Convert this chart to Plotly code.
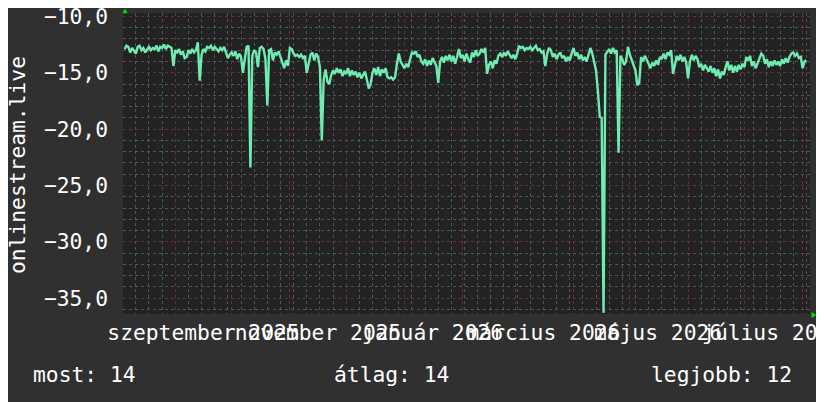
import pandas as pd
import plotly.graph_objects as go

# ---- data (daily values) ----
aug25 = [-12.9, -12.6, -12.7, -13.2, -12.8, -13.1, -13.3, -12.7, -12.6, -13.0, -12.8, -13.2, -12.9, -12.7,
         -13.0, -12.8, -12.9, -12.6, -13.1, -12.7, -12.8, -12.5, -12.9, -12.6, -12.7, -12.8, -14.4]  # from Aug 5
sep25 = [-13.0, -13.2, -12.9, -13.4, -13.1, -13.7, -13.6, -13.0, -13.3, -12.9, -13.2, -13.0, -12.3, -15.7,
         -13.4, -12.9, -13.1, -12.7, -12.8, -12.6, -13.0, -12.7, -12.9, -13.1, -12.8, -13.0, -12.7, -13.2,
         -13.7, -13.4]
oct25 = [-13.2, -13.5, -13.1, -13.8, -13.3, -13.6, -15.0, -13.8, -12.7, -12.6, -23.4, -13.5, -13.0, -13.2,
         -14.5, -12.8, -12.7, -12.9, -13.8, -17.9, -13.0, -12.9, -13.9, -13.2, -13.4, -13.1, -13.6, -14.2,
         -14.6, -13.9, -14.4]
nov25 = [-12.8, -12.9, -13.3, -13.5, -13.4, -13.6, -13.4, -13.7, -13.5, -15.0, -14.2, -13.4, -13.2, -13.9,
         -13.3, -13.6, -14.5, -21.0, -15.6, -14.7, -15.8, -16.0, -15.2, -14.8, -15.1, -14.6, -15.0, -14.7,
         -15.3, -14.9]
dec25 = [-15.1, -14.6, -15.3, -14.8, -15.2, -14.9, -15.4, -15.0, -15.5, -15.2, -14.9, -15.6, -16.4, -16.0,
         -15.0, -14.6, -15.2, -14.5, -15.3, -14.7, -15.0, -14.6, -15.4, -15.5, -15.4, -15.6, -15.4, -14.2,
         -13.3, -14.0, -14.3]
jan26 = [-14.6, -14.2, -14.5, -13.8, -13.2, -13.3, -13.1, -13.6, -13.4, -14.0, -14.2, -13.8, -14.4, -13.9,
         -14.3, -13.7, -14.1, -14.4, -15.9, -14.0, -13.6, -14.1, -13.5, -13.9, -13.4, -14.0, -13.5, -14.2,
         -13.6, -12.9, -13.7]
feb26 = [-13.4, -14.0, -13.3, -13.8, -14.1, -13.2, -13.6, -13.0, -13.5, -13.3, -12.9, -13.2, -12.8, -15.1,
         -14.3, -14.0, -14.6, -13.9, -14.2, -13.5, -13.3, -13.6, -13.2, -13.5, -13.1, -13.4, -13.7, -13.4]
mar26 = [-13.8, -13.3, -12.6, -12.8, -12.7, -13.0, -12.8, -12.9, -12.7, -13.0, -12.8, -12.6, -13.0, -12.9,
         -13.2, -13.1, -14.4, -13.3, -12.8, -13.0, -13.6, -13.3, -13.8, -13.4, -13.2, -13.7, -13.5, -14.0,
         -13.6, -13.9, -13.3]
apr26 = [-12.8, -13.5, -13.2, -13.8, -13.4, -13.9, -13.6, -14.0, -13.5, -12.8, -13.3, -14.2, -14.8, -16.6,
         -18.9, -19.0, -36.3, -13.4, -13.1, -12.9, -13.3, -12.8, -13.2, -13.0, -22.1, -13.5, -13.8, -14.3,
         -14.0, -12.7]
may26 = [-13.4, -13.9, -14.5, -14.8, -16.1, -15.9, -13.6, -14.0, -13.5, -13.8, -14.2, -14.6, -14.1, -14.4,
         -13.9, -14.3, -13.6, -13.8, -13.3, -13.8, -13.2, -13.4, -13.0, -15.1, -14.2, -13.5, -13.9, -13.4,
         -14.0, -13.6, -14.1]
jun26 = [-15.5, -14.0, -13.4, -13.9, -13.5, -13.8, -14.5, -14.2, -14.8, -14.3, -14.6, -14.9, -14.4, -15.0,
         -14.6, -15.3, -14.7, -15.5, -14.9, -15.2, -14.5, -14.0, -14.8, -14.3, -15.0, -14.4, -14.9, -14.3,
         -14.7, -14.2]
jul26 = [-14.5, -13.6, -13.9, -13.5, -14.4, -14.0, -14.6, -14.1, -13.8, -13.3, -13.5, -14.2, -13.8, -14.5,
         -14.0, -14.4, -13.9, -14.3, -14.0, -14.4, -13.8, -14.2, -13.7, -14.1, -13.6, -13.3, -13.2, -13.5,
         -13.3, -13.7, -13.6]
aug26 = [-14.6, -14.0, -13.9]

month_starts = ["2025-08-05", "2025-09-01", "2025-10-01", "2025-11-01", "2025-12-01", "2026-01-01",
                "2026-02-01", "2026-03-01", "2026-04-01", "2026-05-01", "2026-06-01", "2026-07-01",
                "2026-08-01"]
month_values = [aug25, sep25, oct25, nov25, dec25, jan26, feb26, mar26, apr26, may26, jun26, jul26, aug26]

label_dates = ["2025-09-16", "2025-11-16", "2026-01-16", "2026-03-16", "2026-05-16", "2026-07-16"]
label_texts = ["szeptember 2025", "november 2025", "január 2026", "március 2026", "május 2026", "július 2026"]

y_title = "onlinestream.live"
legend_texts = ["most: 14", "átlag: 14", "legjobb: 12"]

# ---- build series ----
dates, values = [], []
for start, vals in zip(month_starts, month_values):
    dates.extend(pd.date_range(start, periods=len(vals), freq="D"))
    values.extend(vals)

x_range = ["2025-08-04 04:00", "2026-08-04 22:00"]
y_range = [-36.4, -9.7]

FONT = "DejaVu Sans Mono"
FS = 21.3
BG = "#303030"
PLOT_BG = "#222222"
MAJOR = "rgba(130,55,55,0.75)"
MINOR = "rgba(105,105,105,0.7)"
LINE = "#6fecb2"

fig = go.Figure()
fig.add_trace(go.Scatter(x=dates, y=values, mode="lines",
                         line=dict(color=LINE, width=2.4), hoverinfo="skip", showlegend=False))
# invisible helper on the label axis
fig.add_trace(go.Scatter(x=[dates[0]], y=[values[0]], xaxis="x2", mode="markers",
                         marker=dict(size=1, opacity=0), hoverinfo="skip", showlegend=False))

# the page shows the div offset by the 8px body margin, so margins compensate
fig.update_layout(
    width=824, height=402,
    margin=dict(l=115, r=22, t=5, b=96, autoexpand=False),
    paper_bgcolor=BG, plot_bgcolor=PLOT_BG,
    separators=", ",
    font=dict(family=FONT, size=FS, color="#ffffff"),
    showlegend=False,
    xaxis=dict(
        type="date", range=x_range, showticklabels=False, ticks="", automargin=False,
        tick0="2025-09-01", dtick="M1",
        showgrid=True, gridcolor=MAJOR, griddash="dot", gridwidth=1,
        minor=dict(tick0="2025-08-04", dtick=7 * 86400000, showgrid=True,
                   gridcolor=MINOR, griddash="dot", gridwidth=1),
        zeroline=False, showline=False,
    ),
    xaxis2=dict(
        type="date", range=x_range, overlaying="x", anchor="y", side="bottom", automargin=False,
        tickmode="array", tickvals=label_dates, ticktext=label_texts,
        tickangle=0, ticks="", showgrid=False, zeroline=False, showline=False,
        ticklabeloverflow="allow", ticklabelstandoff=4,
        tickfont=dict(family=FONT, size=FS, color="#ffffff"),
    ),
    yaxis=dict(
        range=y_range, tick0=-35, dtick=5, tickformat=".1f", ticks="", automargin=False,
        showgrid=True, gridcolor=MAJOR, griddash="dot", gridwidth=1,
        minor=dict(dtick=1, tick0=-35, showgrid=True, gridcolor=MINOR, griddash="dot", gridwidth=1),
        zeroline=False, showline=False, ticklabelstandoff=14, ticklabeloverflow="allow",
        tickfont=dict(family=FONT, size=FS, color="#ffffff"),
    ),
)

# rotated y-axis title
fig.add_annotation(text=y_title, xref="paper", yref="paper",
                   x=(17 - 123) / 687, y=(314 - 165) / 301, textangle=-90,
                   xanchor="center", yanchor="middle", showarrow=False,
                   font=dict(family=FONT, size=FS, color="#ffffff"))

# legend-like summary row
for txt, px in zip(legend_texts, [31, 332, 649]):
    fig.add_annotation(text=txt, xref="paper", yref="paper",
                       x=(px - 123) / 687, y=(314 - 374) / 301,
                       xanchor="left", yanchor="middle", showarrow=False,
                       font=dict(family=FONT, size=FS, color="#ffffff"))

# green axis arrows (rrdtool style)
def px_to_paper(px, py):
    return (px - 123) / 687, (314 - py) / 301

ax, ay = px_to_paper(122.3, 13.3); bx, by = px_to_paper(127.7, 13.3); cx, cy = px_to_paper(125, 8.5)
fig.add_shape(type="path", xref="paper", yref="paper",
              path=f"M {ax} {ay} L {bx} {by} L {cx} {cy} Z",
              fillcolor="#00dd00", line=dict(width=0))
ax, ay = px_to_paper(811.5, 312); bx, by = px_to_paper(811.5, 318); cx, cy = px_to_paper(816.5, 315)
fig.add_shape(type="path", xref="paper", yref="paper",
              path=f"M {ax} {ay} L {bx} {by} L {cx} {cy} Z",
              fillcolor="#00dd00", line=dict(width=0))

fig.write_html("out.html")
